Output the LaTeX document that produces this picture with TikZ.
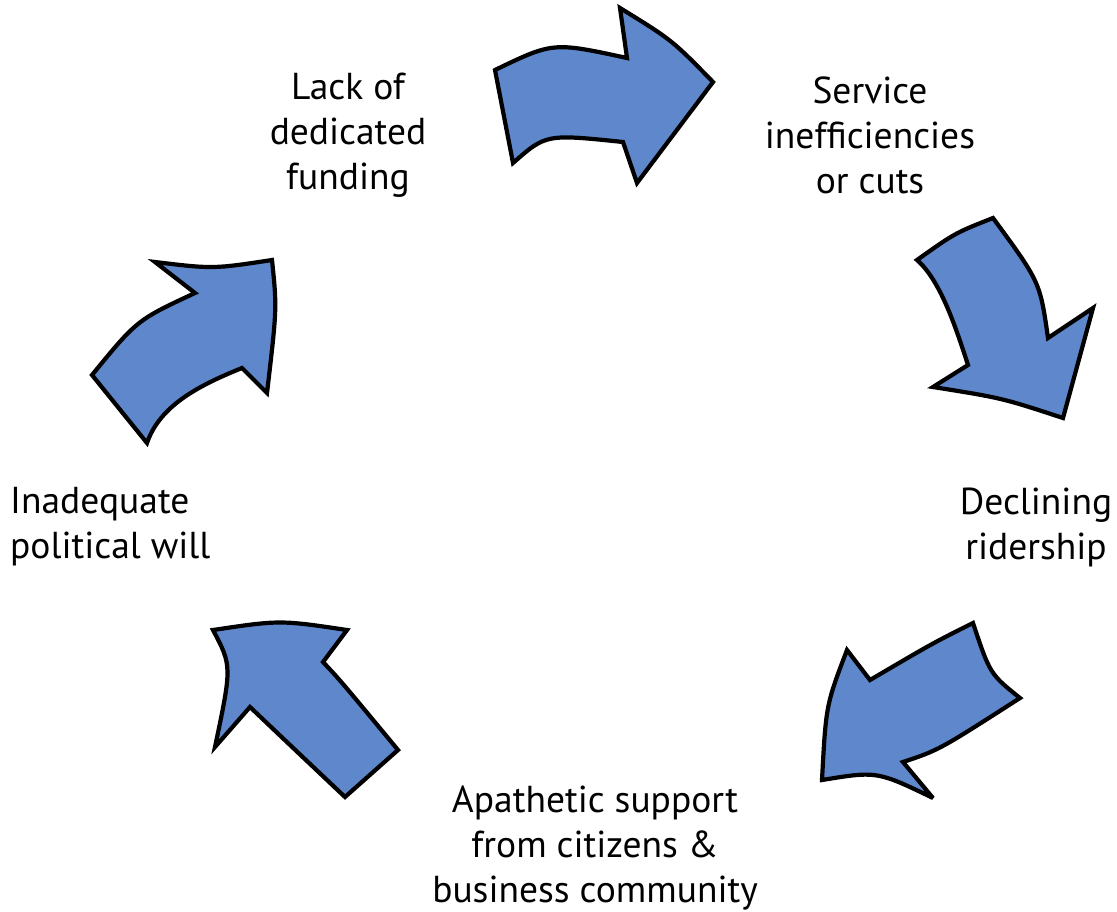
\documentclass[tikz,border=0pt]{standalone}
\usepackage{fontspec}
\setmainfont{PT Sans}
\definecolor{arrowblue}{RGB}{95,135,203}
\tikzset{
  bigarrow/.style={fill=arrowblue, draw=black, line width=4.2pt, line join=miter, miter limit=4},
  label/.style={align=center, inner sep=0pt, font=\fontsize{37.5}{45}\selectfont}
}
\begin{document}
\begin{tikzpicture}[x=1pt, y=-1pt]
  \useasboundingbox (0,0) rectangle (1117,911);
  % texts
  \node [label] (funding) at (348,135) {Lack of\\dedicated\\funding};
  \node [label] (service) at (870,135) {Service\\inefficiencies\\or cuts};
  \node [label] (ridership) at (1036,527) {Declining\\ridership};
  \node [label] (support) at (595,848) {Apathetic support\\from citizens \&\\business community};
  \node [label, align=left, anchor=west] (will) at (10,527) {Inadequate\\political will};
  % top arrow
  \draw [bigarrow] (495,70) .. controls (553,42) .. (627,58) -- (620,8)
    .. controls (672,40) .. (713,82) -- (637,183) -- (623,142)
    .. controls (546,134) .. (513,163) -- cycle;
  % right arrow
  \draw [bigarrow] (917,260) .. controls (955,233) .. (993,218)
    .. controls (1040,282) .. (1048,338) -- (1093,308) -- (1063,418)
    .. controls (1002,398) .. (933,387) -- (968,365)
    .. controls (955,325) and (940,280) .. cycle;
  % lower right arrow
  \draw [bigarrow] (973,623) .. controls (990,674) .. (1020,698)
    .. controls (939,750) .. (903,762) -- (933,798)
    .. controls (877,771) .. (822,780) .. controls (826,705) .. (847,650)
    -- (870,680) .. controls (933,643) .. cycle;
  % lower left arrow
  \draw [bigarrow] (213,630) .. controls (280,620) .. (347,630) -- (323,662)
    .. controls (340,680) .. (398,750) -- (345,797)
    .. controls (290,745) .. (250,707) -- (215,747)
    .. controls (232,666) .. cycle;
  % left arrow
  \draw [bigarrow] (92,375) .. controls (137,320) .. (195,293) -- (155,262)
    .. controls (213,269) .. (272,260) .. controls (277,308) .. (267,393)
    -- (242,368) .. controls (200,385) and (160,405) .. (147,443) -- cycle;
\end{tikzpicture}
\end{document}
